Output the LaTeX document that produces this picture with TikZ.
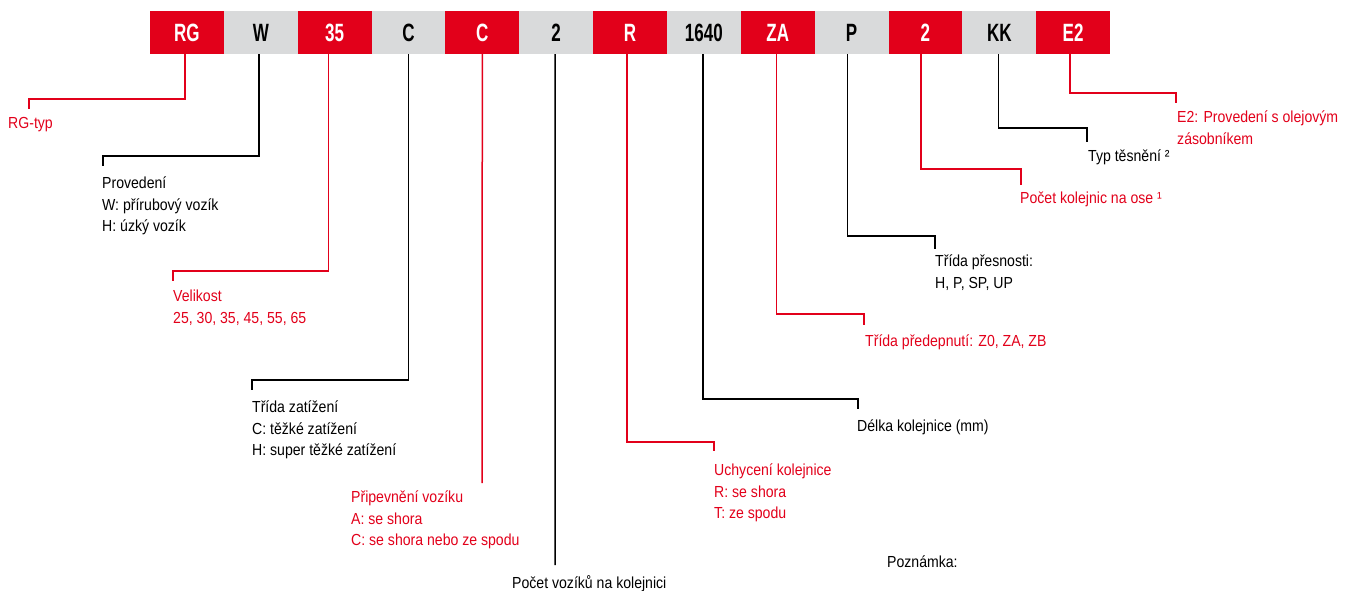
\documentclass[tikz,border=0pt]{standalone}
\usepackage{fontspec}
\setmainfont{Liberation Sans}[FakeStretch=0.88]
\newfontfamily\codefont{Liberation Sans}[FakeStretch=0.68]
\usetikzlibrary{positioning}
\definecolor{hiwinred}{HTML}{E2001A}
\definecolor{cellgray}{HTML}{D9DADB}

\begin{document}
\begin{tikzpicture}[x=1pt,y=-1pt,
  cell/.style={minimum width=73.85pt,minimum height=43pt,inner sep=0pt,outer sep=0pt,font=\codefont\bfseries\fontsize{25}{25}\selectfont},
  rcell/.style={cell,fill=hiwinred,text=white},
  gcell/.style={cell,fill=cellgray,text=black},
  lab/.style={anchor=north west,inner sep=0pt,align=left,font=\fontsize{16}{21.5}\selectfont},
  rlab/.style={lab,text=hiwinred},
  lead/.style={line width=1.5pt,black},
  rlead/.style={lead,hiwinred}]
\useasboundingbox (0,0) rectangle (1346,590);
% code cells
\node[rcell,anchor=north west] (rg) at (150,11) {RG};
\node[gcell,right=0pt of rg] (w) {W};
\node[rcell,right=0pt of w] (size) {35};
\node[gcell,right=0pt of size] (load) {C};
\node[rcell,right=0pt of load] (mount) {C};
\node[gcell,right=0pt of mount] (blocks) {2};
\node[rcell,right=0pt of blocks] (rail) {R};
\node[gcell,right=0pt of rail] (len) {1640};
\node[rcell,right=0pt of len] (pre) {ZA};
\node[gcell,right=0pt of pre] (acc) {P};
\node[rcell,right=0pt of acc] (rails) {2};
\node[gcell,right=0pt of rails] (seal) {KK};
\node[rcell,right=0pt of seal] (oil) {E2};
% tick ends
\coordinate (rgtick) at (29,109);
\coordinate (wtick) at (103,166);
\coordinate (sizetick) at (173,281);
\coordinate (loadtick) at (252,390);
\coordinate (mounttick) at (482,483);
\coordinate (blockstick) at (555,565);
\coordinate (railtick) at (714,451);
\coordinate (lentick) at (858,409);
\coordinate (pretick) at (864,325);
\coordinate (acctick) at (935,249);
\coordinate (railstick) at (1021,185);
\coordinate (sealtick) at (1087,142);
\coordinate (oiltick) at (1176,103);
% labels
\node[rlab] (rgtyp) at (8,117.5) {RG-typ};
\node[lab] (wlab) at (102,177) {Provedení\\W: přírubový vozík\\H: úzký vozík};
\node[rlab] (sizelab) at (173,290) {Velikost\\25, 30, 35, 45, 55, 65};
\node[lab] (loadlab) at (252,401) {Třída zatížení\\C: těžké zatížení\\H: super těžké zatížení};
\node[rlab] (mountlab) at (351,491) {Připevnění vozíku\\A: se shora\\C: se shora nebo ze spodu};
\node[lab] (blockslab) at (512,575) {Počet vozíků na kolejnici};
\node[rlab] (raillab) at (714,464) {Uchycení kolejnice\\R: se shora\\T: ze spodu};
\node[lab] (lenlab) at (857,419.5) {Délka kolejnice (mm)};
\node[rlab] (prelab) at (865,334.5) {Třída předepnutí: Z0, ZA, ZB};
\node[lab] (acclab) at (935,255) {Třída přesnosti:\\H, P, SP, UP};
\node[rlab] (railslab) at (1020,192) {Počet kolejnic na ose ¹};
\node[lab] (seallab) at (1088,150) {Typ těsnění ²};
\node[rlab] (oillab) at (1177,111) {E2: Provedení s olejovým\\zásobníkem};
\node[lab] (note) at (887,556) {Poznámka:};
% leaders
\draw[rlead] ([xshift=-2pt]rg.south) |- ([yshift=10pt]rgtick) -- (rgtick);
\draw[lead] ([xshift=-2pt]w.south) |- ([yshift=10pt]wtick) -- (wtick);
\draw[rlead] ([xshift=-6pt]size.south) |- ([yshift=10pt]sizetick) -- (sizetick);
\draw[lead] (load.south) |- ([yshift=10pt]loadtick) -- (loadtick);
\draw[rlead] (mount.south) -- (mounttick);
\draw[lead] ([xshift=-1pt]blocks.south) -- (blockstick);
\draw[rlead] ([xshift=-3pt]rail.south) |- ([yshift=9pt]railtick) -- (railtick);
\draw[lead] ([xshift=-1pt]len.south) |- ([yshift=10pt]lentick) -- (lentick);
\draw[rlead] ([xshift=-1pt]pre.south) |- ([yshift=11pt]pretick) -- (pretick);
\draw[lead] ([xshift=-4pt]acc.south) |- ([yshift=13pt]acctick) -- (acctick);
\draw[rlead] ([xshift=-4.5pt]rails.south) |- ([yshift=16pt]railstick) -- (railstick);
\draw[lead] ([xshift=-1pt]seal.south) |- ([yshift=14pt]sealtick) -- (sealtick);
\draw[rlead] ([xshift=-3pt]oil.south) |- ([yshift=10pt]oiltick) -- (oiltick);
\end{tikzpicture}
\end{document}
